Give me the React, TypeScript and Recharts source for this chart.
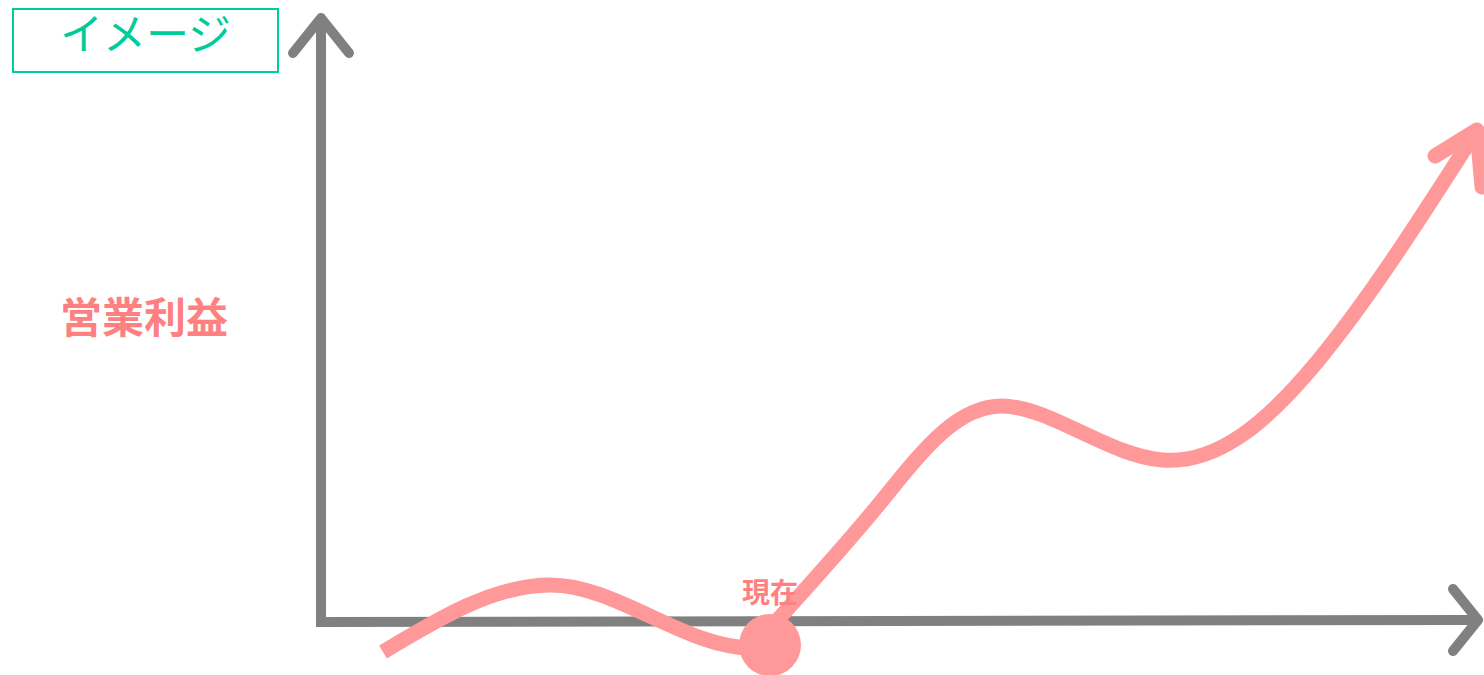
import { LineChart, Line, XAxis, YAxis, ReferenceDot } from 'recharts'

// operating profit concept curve (time units on x, profit units on y)
// past part: start -> peak -> dip under the "now" marker
const pastTime = [6.3, 23.0, 43.2, 45.0]
const pastProfit = [-3.0, 3.7, -2.6, -2.3]
// future part: from the dip up to the arrow tip
const futureTime = [43.2, 56.0, 68.2, 84.2, 99.7, 115.7]
const futureProfit = [-2.6, 11.9, 21.6, 16.2, 26.0, 49.2]

// arrow head at the end of the curve
const curveHeadX = [111.5, 115.7, 116.2]
const curveHeadY = [46.6, 49.2, 43.5]

// the two axes drawn as one L, plus their arrow heads
const axisX = [0.1, 0.1, 115.8]
const axisY = [60.4, 0, 0.2]
const yHeadX = [-2.7, 0.1, 2.9]
const yHeadY = [56.9, 60.4, 56.9]
const xHeadX = [113.3, 115.8, 113.3]
const xHeadY = [3.3, 0.2, -2.9]

// "now" marker
const nowPoint = { x: 45.0, y: -2.3 }

const xDomain: [number, number] = [-32, 116.4]
const yDomain: [number, number] = [-5.3, 62.2]

const zip = (xs: number[], ys: number[]) => xs.map((x, i) => ({ x, y: ys[i] }))

const pastData = zip(pastTime, pastProfit)
const futureData = zip(futureTime, futureProfit)
const curveHead = zip(curveHeadX, curveHeadY)
const axisData = zip(axisX, axisY)
const yHead = zip(yHeadX, yHeadY)
const xHead = zip(xHeadX, xHeadY)

const GRAY = '#808080'
const PINK = '#FF9999'
const LABEL_PINK = '#FF8080'
const GREEN = '#00CC99'
const FONT = '"Noto Sans CJK JP", "Noto Sans", sans-serif'

export default function App() {
  return (
    <div style={{ position: 'fixed', left: 0, top: 0, width: 1484, height: 675, background: '#fff', fontFamily: FONT }}>
      <LineChart width={1484} height={675} margin={{ top: 0, right: 0, bottom: 0, left: 0 }}>
        <XAxis type="number" dataKey="x" domain={xDomain} hide allowDataOverflow />
        <YAxis type="number" dataKey="y" domain={yDomain} hide allowDataOverflow />
        <Line data={axisData} dataKey="y" type="linear" stroke={GRAY} strokeWidth={10} dot={false} activeDot={false} isAnimationActive={false} strokeLinejoin="miter" />
        <Line data={yHead} dataKey="y" type="linear" stroke={GRAY} strokeWidth={10} dot={false} activeDot={false} isAnimationActive={false} strokeLinecap="round" strokeLinejoin="round" />
        <Line data={xHead} dataKey="y" type="linear" stroke={GRAY} strokeWidth={10} dot={false} activeDot={false} isAnimationActive={false} strokeLinecap="round" strokeLinejoin="round" />
        <Line data={pastData} dataKey="y" type="monotone" stroke={PINK} strokeWidth={15} dot={false} activeDot={false} isAnimationActive={false} strokeLinecap="butt" />
        <Line data={futureData} dataKey="y" type="natural" stroke={PINK} strokeWidth={15} dot={false} activeDot={false} isAnimationActive={false} strokeLinecap="butt" />
        <Line data={curveHead} dataKey="y" type="linear" stroke={PINK} strokeWidth={15} dot={false} activeDot={false} isAnimationActive={false} strokeLinecap="round" strokeLinejoin="round" />
        <ReferenceDot
          x={nowPoint.x}
          y={nowPoint.y}
          r={31}
          fill={PINK}
          stroke="none"
          ifOverflow="visible"
          label={{ value: '現在', position: 'top', offset: 11, fill: LABEL_PINK, fontSize: 28, fontWeight: 700, fontFamily: FONT }}
        />
      </LineChart>

      <div style={{ position: 'absolute', left: 12, top: 8, width: 263, height: 61, border: `2px solid ${GREEN}`, color: GREEN, fontSize: 43, lineHeight: '43px', textAlign: 'center' }}>
        イメージ
      </div>
      <div style={{ position: 'absolute', left: 60, top: 294, color: LABEL_PINK, fontSize: 42, fontWeight: 700, lineHeight: 1 }}>
        営業利益
      </div>
    </div>
  )
}
